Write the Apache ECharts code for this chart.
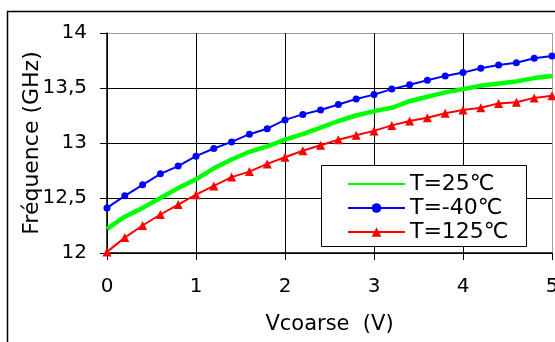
<!DOCTYPE html>
<html>
<head>
<meta charset="utf-8">
<script src="https://cdn.jsdelivr.net/npm/echarts@6/dist/echarts.min.js"></script>
<style>
  html, body { margin: 0; padding: 0; background: #fff; overflow: hidden; }
  #chart { width: 555px; height: 342px; }
</style>
</head>
<body>
<div id="chart"></div>
<script>
// Vcoarse sweep (V)
const vcoarse = [0, 0.2, 0.4, 0.6, 0.8, 1.0, 1.2, 1.4, 1.6, 1.8, 2.0, 2.2, 2.4,
                 2.6, 2.8, 3.0, 3.2, 3.4, 3.6, 3.8, 4.0, 4.2, 4.4, 4.6, 4.8, 5.0];

// Oscillation frequency (GHz) for each temperature
const freq25 = [12.22, 12.33, 12.41, 12.50, 12.59, 12.67, 12.77, 12.85, 12.92, 12.97,
                13.03, 13.08, 13.14, 13.20, 13.25, 13.29, 13.32, 13.38, 13.42, 13.46,
                13.49, 13.52, 13.54, 13.56, 13.59, 13.61];
const freqMinus40 = [12.41, 12.52, 12.62, 12.72, 12.79, 12.88, 12.95, 13.01, 13.08, 13.13,
                     13.21, 13.26, 13.30, 13.35, 13.40, 13.44, 13.49, 13.53, 13.57, 13.61,
                     13.64, 13.68, 13.71, 13.73, 13.77, 13.79];
const freq125 = [12.01, 12.14, 12.25, 12.35, 12.44, 12.53, 12.61, 12.69, 12.74, 12.81,
                 12.87, 12.93, 12.98, 13.03, 13.07, 13.11, 13.16, 13.20, 13.23, 13.27,
                 13.30, 13.32, 13.36, 13.37, 13.41, 13.43];

const seriesNames = ['T=25\u2103', 'T=-40\u2103', 'T=125\u2103'];
const yTickLabels = ['12', '12,5', '13', '13,5', '14'];
const xTickLabels = ['0', '1', '2', '3', '4', '5'];

const FONT = 'DejaVu Sans';

function pairs(ys) {
  return vcoarse.map((x, i) => [x, ys[i]]);
}

const chart = echarts.init(document.getElementById('chart'), null, { renderer: 'canvas' });

chart.setOption({
  backgroundColor: '#ffffff',
  animation: false,
  graphic: [
    {
      // outer chart frame
      type: 'rect',
      shape: { x: 7.5, y: 11.5, width: 700, height: 500 },
      style: { fill: 'none', stroke: '#000', lineWidth: 1.5 },
      z: 0
    },
    {
      // legend box
      type: 'rect',
      shape: { x: 321.5, y: 165.5, width: 205, height: 81 },
      style: { fill: '#fff', stroke: '#000', lineWidth: 1 },
      z: 8
    }
  ],
  grid: {
    left: 107, top: 33, right: 3, bottom: 89,
    containLabel: false,
    outerBoundsMode: 'none'
  },
  xAxis: {
    type: 'value',
    min: 0, max: 5, interval: 1,
    name: 'Vcoarse  (V)',
    nameLocation: 'middle',
    nameGap: 61,
    nameMoveOverlap: false,
    nameTextStyle: { fontFamily: FONT, fontSize: 21, color: '#000' },
    axisLine: { show: true, lineStyle: { color: '#000', width: 1.5 } },
    axisTick: { show: true, inside: false, length: 7, lineStyle: { color: '#000', width: 1 } },
    axisLabel: {
      margin: 24, fontFamily: FONT, fontSize: 20, color: '#000',
      formatter: v => xTickLabels[Math.round(v)]
    },
    splitLine: { show: true, lineStyle: { color: ['#000', '#000', '#000', '#000', '#000', '#a0a0a0'], width: 1 } }
  },
  yAxis: {
    type: 'value',
    min: 12, max: 14, interval: 0.5,
    name: 'Fr\u00e9quence (GHz)',
    nameLocation: 'middle',
    nameGap: 64,
    nameMoveOverlap: false,
    nameTextStyle: { fontFamily: FONT, fontSize: 22, color: '#000' },
    axisLine: { show: true, lineStyle: { color: '#000', width: 1.5 } },
    axisTick: { show: true, inside: false, length: 7, lineStyle: { color: '#000', width: 1 } },
    axisLabel: {
      margin: 20, fontFamily: FONT, fontSize: 20, color: '#000',
      formatter: v => yTickLabels[Math.round((v - 12) / 0.5)]
    },
    splitLine: { show: true, lineStyle: { color: ['#000', '#000', '#000', '#000', '#a0a0a0'], width: 1 } }
  },
  legend: {
    data: [
      { name: seriesNames[0], itemStyle: { opacity: 0 } },
      { name: seriesNames[1] },
      { name: seriesNames[2] }
    ],
    orient: 'vertical',
    left: 322, top: 166,
    padding: [7, 2, 6, 25],
    itemWidth: 57,
    itemHeight: 12,
    itemGap: 2,
    textStyle: { fontFamily: FONT, fontSize: 22, color: '#000', lineHeight: 22 },
    z: 10
  },
  series: [
    {
      name: seriesNames[0], type: 'line', data: pairs(freq25),
      showSymbol: false, symbol: 'none',
      lineStyle: { color: '#00ff00', width: 4.5 },
      itemStyle: { color: '#00ff00' },
      z: 3
    },
    {
      name: seriesNames[1], type: 'line', data: pairs(freqMinus40),
      symbol: 'circle', symbolSize: 7,
      lineStyle: { color: '#0000ff', width: 2 },
      itemStyle: { color: '#0000ff' },
      z: 4
    },
    {
      name: seriesNames[2], type: 'line', data: pairs(freq125),
      symbol: 'triangle', symbolSize: 9,
      lineStyle: { color: '#ff0000', width: 2 },
      itemStyle: { color: '#ff0000' },
      z: 5
    }
  ]
});
</script>
</body>
</html>
